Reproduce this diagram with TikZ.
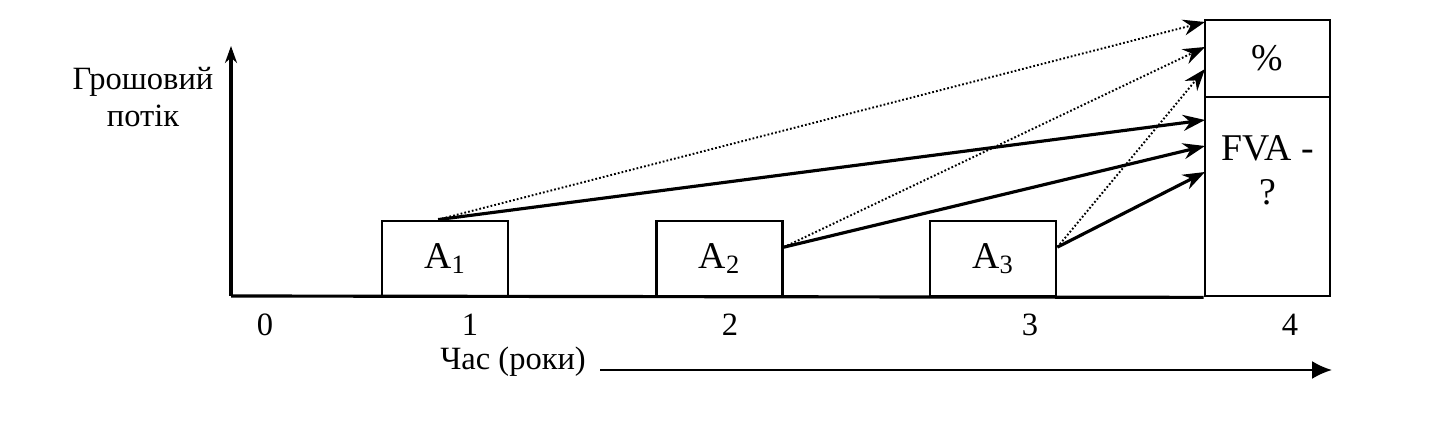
\documentclass[tikz,border=0pt]{standalone}
\usepackage{fontspec}
\setmainfont{Liberation Serif}
\usetikzlibrary{arrows.meta,positioning}

\tikzset{
 axisline/.style={line width=1.8pt},
 paybox/.style={draw, line width=1.6pt, minimum width=2.52cm, minimum height=1.5cm, inner sep=0pt, font=\fontsize{21.5}{25}\selectfont},
 flowdot/.style={line width=1.1pt, dash pattern=on 1pt off 1.2pt, -{Stealth[length=0.44cm,width=0.32cm]}},
 flowline/.style={line width=1.8pt, -{Stealth[length=0.44cm,width=0.32cm]}},
 lbl/.style={font=\fontsize{18.5}{21}\selectfont, inner sep=0pt}
}

\begin{document}
\begin{tikzpicture}[x=0.02cm,y=-0.02cm]

\useasboundingbox (0,0) rectangle (1454,431);

\begin{scope} %payments
 \node[paybox] (a1) at (445,258.5) {A\textsubscript{1}};
 \node[paybox] (a2) at (719.5,258.5) {A\textsubscript{2}};
 \node[paybox] (a3) at (993,258.5) {A\textsubscript{3}};
\end{scope}

\begin{scope} %FVA
 \node[paybox, minimum width=2.5cm, minimum height=1.54cm] (pct) at (1267.5,58.5) {\%};
 \node[paybox, minimum width=2.5cm, minimum height=3.98cm] (fva) at (1267.5,196.5) {};
 \node[paybox, draw=none, align=center, anchor=north, below=0.72cm of fva.north] (fvatext) {FVA -\\?};
\end{scope}

%axes
\coordinate (o) at (231,296);
\coordinate (ytop) at (231,46);
\draw[axisline, -{Stealth[length=0.34cm,width=0.24cm]}] (o) -- (ytop);
\draw[axisline] (o) -- (fva.south west);
\node[lbl, align=center, anchor=north] (ylab) at (143,67) {Грошовий\\потік};

\foreach \x/\n in {265/0,470/1,730/2,1030/3,1290/4}
 \node[lbl, anchor=base] (tick\n) at (\x,336) {\n};

\node[lbl, anchor=base west] (tlab) at (440,370) {Час (роки)};
\coordinate (tend) at (1332,370);
\draw[line width=1.3pt, -{Latex[length=0.4cm,width=0.36cm]}] ([xshift=8pt]tlab.base east) -- (tend);

%flows
\foreach \n/\ty in {1/22,2/47,3/69,4/120,5/146,6/172}
 \coordinate (t\n) at (1205,\ty);
\foreach \s/\t in {a1.100/t1, a2.10/t2, a3.10/t3}
 \draw[flowdot] (\s) -- (\t);
\foreach \s/\t in {a1.100/t4, a2.10/t5, a3.10/t6}
 \draw[flowline] (\s) -- (\t);

\end{tikzpicture}
\end{document}
